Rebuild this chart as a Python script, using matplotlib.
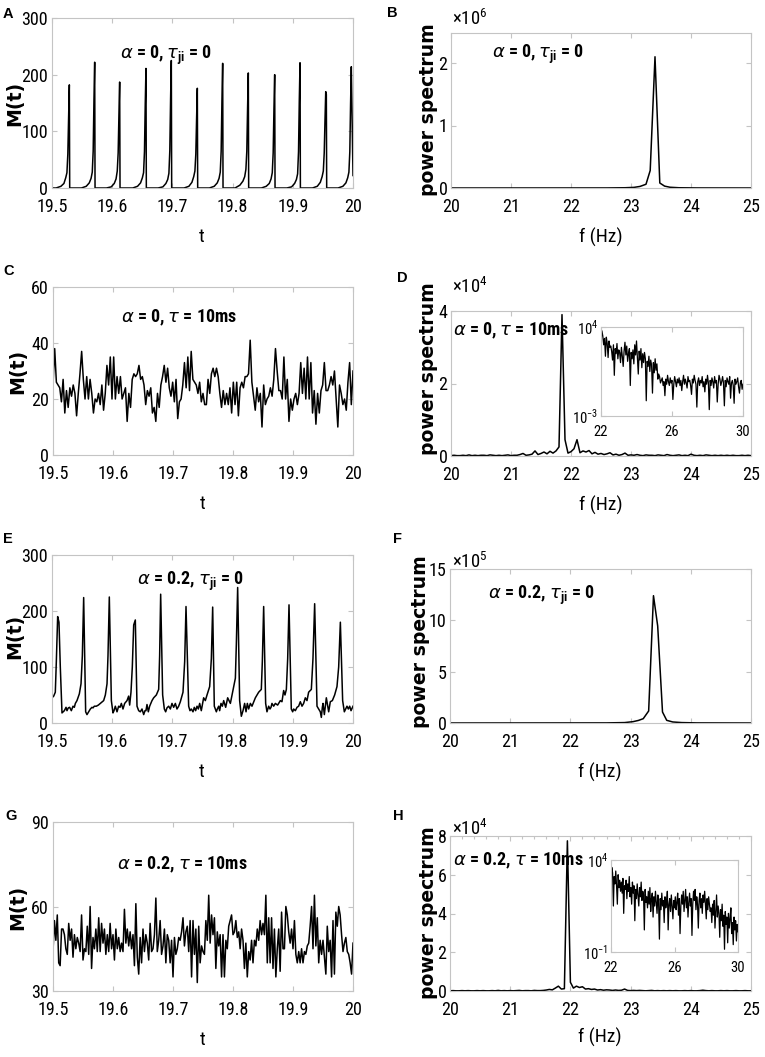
import numpy as np
import matplotlib
matplotlib.use('Agg')
import matplotlib.pyplot as plt
from matplotlib import font_manager as fm
from matplotlib.ticker import NullLocator, MultipleLocator

W, H = 765, 1057

# ---------------- fonts ----------------
_names = {f.name for f in fm.fontManager.ttflist}
NARROW, FS = 'DejaVu Sans', 0.8
for cand in ['Liberation Sans Narrow', 'Arial Narrow', 'Roboto Condensed', 'Archivo Narrow',
             'PT Sans Narrow', 'Fira Sans Condensed', 'Barlow Semi Condensed', 'Encode Sans Condensed']:
    if cand in _names:
        NARROW, FS = cand, 1.0
        break
WIDE = 'DejaVu Sans'
for cand in ['Liberation Sans', 'Arimo', 'Arial']:
    if cand in _names:
        WIDE = cand
        break

plt.rcParams['font.family'] = [NARROW, 'DejaVu Sans']
plt.rcParams['mathtext.fontset'] = 'custom'
plt.rcParams['mathtext.rm'] = NARROW
plt.rcParams['mathtext.bf'] = NARROW + ':bold'
plt.rcParams['mathtext.it'] = 'DejaVu Sans:italic'

# ---------------- data ----------------
# Panel A: M(t), alpha=0, tau_ji=0  (time in ms after t=19.5 s)
A_t_ms = [0.0, 6.8, 14.8, 19.8, 22.8, 24.8, 26.3, 27.6, 28.8, 29.4,
          48.9, 56.9, 61.9, 64.9, 66.9, 68.4, 69.7, 70.9, 71.5,
          90.4, 98.4, 103.4, 106.4, 108.4, 109.9, 111.2, 112.4, 113.0,
          134.1, 142.1, 147.1, 150.1, 152.1, 153.6, 154.9, 156.1, 156.7,
          176.2, 184.2, 189.2, 192.2, 194.2, 195.7, 197.0, 198.2, 198.8,
          219.4, 227.4, 232.4, 235.4, 237.4, 238.9, 240.2, 241.4, 242.0,
          261.5, 269.5, 274.5, 277.5, 279.5, 281.0, 282.3, 283.5, 284.1,
          304.1, 312.1, 317.1, 320.1, 322.1, 323.6, 324.9, 326.1, 326.7,
          347.9, 355.9, 360.9, 363.9, 365.9, 367.4, 368.7, 369.9, 370.5,
          390.0, 398.0, 403.0, 406.0, 408.0, 409.5, 410.8, 412.0, 412.6,
          432.7, 440.7, 445.7, 448.7, 450.7, 452.2, 453.5, 454.7, 455.7, 456.3,
          475.2, 483.2, 488.2, 491.2, 493.2, 494.7, 496.0, 497.2, 500.0]
A_M = [0, 0, 3, 8, 18, 27, 60, 125, 182, 0,
       0, 3, 9, 17, 28, 65, 155, 222, 0,
       0, 2, 8, 16, 30, 62, 130, 187, 0,
       0, 3, 9, 18, 27, 64, 148, 211, 0,
       0, 2, 8, 15, 26, 66, 158, 225, 0,
       0, 3, 10, 20, 30, 60, 123, 176, 0,
       0, 3, 9, 17, 28, 65, 154, 220, 0,
       0, 5, 12, 20, 33, 65, 142, 203, 0,
       0, 3, 8, 16, 27, 62, 140, 200, 0,
       0, 2, 8, 15, 25, 64, 155, 221, 0,
       0, 3, 10, 20, 30, 62, 120, 170, 165, 0,
       0, 3, 9, 18, 28, 64, 150, 214, 22]

# Panel B: power spectrum (x1e6)
B_f = [20.0, 22.6, 22.9, 23.05, 23.15, 23.25, 23.32, 23.40, 23.48, 23.56, 23.65, 23.8, 24.1, 25.0]
B_P = [0.0, 0.001, 0.004, 0.01, 0.025, 0.06, 0.28, 2.1, 0.08, 0.03, 0.012, 0.004, 0.001, 0.0]

# Panel C: M(t), alpha=0, tau=10ms (uniformly sampled 19.5..20)
C_M = [25, 38, 26, 25, 24, 19, 27, 15, 23, 17, 24, 21, 25, 22, 14, 22, 29, 37, 27, 20,
       28, 20, 27, 22, 15, 20, 19, 22, 18, 25, 16, 22, 32, 25, 35, 20, 35, 20, 28, 22,
       28, 20, 22, 24, 12, 22, 17, 27, 29, 28, 29, 32, 27, 28, 25, 18, 23, 21, 24, 15,
       17, 12, 22, 17, 25, 28, 32, 26, 31, 24, 21, 26, 19, 27, 13, 19, 20, 25, 33, 24,
       35, 23, 37, 27, 26, 25, 22, 26, 19, 22, 18, 18, 27, 22, 29, 31, 28, 31, 28, 22,
       17, 23, 18, 22, 18, 24, 15, 26, 18, 26, 14, 24, 26, 24, 28, 28, 29, 41, 26, 21,
       16, 24, 19, 22, 10, 25, 18, 20, 21, 24, 21, 27, 38, 30, 23, 23, 20, 35, 20, 27,
       12, 20, 16, 20, 22, 18, 22, 33, 22, 31, 20, 35, 20, 33, 15, 23, 11, 22, 15, 23,
       25, 33, 23, 23, 25, 28, 25, 30, 20, 10, 25, 22, 18, 20, 16, 26, 33, 18, 30]

# Panel D: power spectrum (x1e4), 20..25 Hz
D_P = [0.01, 0.02, 0.01, 0.01, 0.02, 0.01, 0.03, 0.01, 0.02, 0.01, 0.02, 0.02, 0.01, 0.03,
       0.02, 0.01, 0.02, 0.01, 0.02, 0.03, 0.01, 0.02, 0.02,
       0.04, 0.07, 0.02, 0.03, 0.05, 0.14, 0.04, 0.07, 0.11, 0.06, 0.13, 0.08, 0.14, 0.25,
       3.9,
       0.45, 0.08, 0.12, 0.2, 0.45, 0.09, 0.14, 0.11, 0.15, 0.06, 0.1, 0.05, 0.07,
       0.04, 0.06, 0.09, 0.03, 0.05, 0.02, 0.04, 0.08, 0.02, 0.03, 0.02, 0.04, 0.02, 0.01,
       0.03, 0.02, 0.02, 0.01, 0.03, 0.02, 0.01, 0.04, 0.02, 0.01, 0.02, 0.03, 0.01, 0.02,
       0.01, 0.05, 0.02, 0.01, 0.02, 0.01, 0.03, 0.02, 0.01, 0.02, 0.01, 0.02, 0.01, 0.02,
       0.01, 0.02, 0.01, 0.01, 0.02, 0.01, 0.02, 0.01]
# Panel D inset: log10(power), 22..30 Hz
D_inset_log = [2.8, 3.7, 3.3, 2.6, 3.1, 1.7, 3.2, 2.7, 1.6, 2.9, 2.4,
               2.5, 2.1, 1.4, 2.6, 0.2, 2.3, 1.9, 2.7, 1.5, 2.2, 2.0, 1.2, 2.4, 1.7, 0.9, 2.1, 2.8, 1.8, 2.5, 1.3,
               1.9, 2.3, -0.6, 2.0, 1.5, 2.2, 1.1, 2.6, 1.8, 2.9, 1.6, 0.3, 2.1, 1.4, 2.3, 0.8, 1.9, 1.2, 2.0, 1.5,
               -1.8, 1.3, 0.9, 1.7, 0.5, 1.4, 1.0, -1.2, 1.2, 0.4, 1.5, 0.6, 1.1, -0.1, 0.3,
               0.1, -0.4, -0.2, 0.0, -0.6, -0.3, -1.4, -0.1, -0.5, 0.2,
               -0.3, -0.6, 0.0, -0.4, -0.2, -1.7, -0.5, 0.1, -0.3, -0.7,
               -0.1, -0.4, 0.0, -0.6, -0.2, -1.0, -0.3, 0.2, -0.5, -0.1,
               -0.4, -0.8, 0.1, -0.3, -0.2, -0.6, -1.3, -0.1, -0.4, 0.2,
               -0.2, -0.5, -2.3, -0.3, 0.0, -0.6, -0.2, -0.4, 0.1, -0.7,
               -0.3, -1.1, -0.1, -0.5, 0.2, -0.4, -2.5, -0.2, -0.6, 0.0,
               -0.3, -0.8, 0.1, -0.4, -0.2, -1.9, -0.5, 0.2, -0.1, -0.6,
               -0.3, 0.1, -0.4, -2.2, -0.2, -0.7, 0.0, -0.3, -0.5, 0.1,
               -1.6, -0.4, -0.2, -0.6, -2.0, -0.1, -0.5, -0.3, 0.0, -0.7,
               -1.2, -0.4, -0.2, -0.9, -0.5]

# Panel E: M(t), alpha=0.2, tau_ji=0 (time in ms after t=19.5 s)
E_t_ms = [0.0, 2.8, 5.5, 7.2, 9.4, 11.6, 13.8, 16.6, 20.5, 23.3,
          24.9, 27.1, 29.3, 32.1, 34.9, 37.1, 38.8, 41.5, 45.4, 48.2,
          50.4, 52.6, 55.9, 58.1, 60.9, 63.7, 66.4, 68.1, 70.3, 73.6,
          77.0, 80.3, 85.8, 88.6, 91.4, 93.0, 95.2, 98.6, 101.3, 103.0,
          105.2, 108.0, 110.7, 113.0, 115.2, 117.9, 120.7, 124.6, 127.3, 129.0,
          131.2, 133.4, 135.7, 138.4, 141.2, 144.0, 146.7, 149.5, 152.3, 154.5,
          156.1, 157.8, 160.0, 162.2, 166.1, 168.9, 173.3, 177.2, 178.8, 180.5,
          183.8, 186.6, 188.8, 191.0, 193.8, 196.6, 199.3, 202.1, 204.9, 207.6,
          210.4, 213.2, 217.6, 220.4, 222.6, 227.0, 229.2, 231.4, 234.2, 236.4,
          238.6, 240.9, 243.1, 245.3, 248.0, 251.9, 254.7, 257.5, 261.9, 264.7,
          266.9, 269.6, 273.0, 274.6, 276.9, 278.5, 280.7, 283.0, 285.2, 288.5,
          291.8, 296.3, 301.8, 304.6, 306.2, 308.4, 311.7, 314.5, 317.3, 320.0,
          322.3, 324.5, 326.7, 329.5, 332.2, 337.8, 343.3, 347.7, 349.4, 351.6,
          354.9, 357.1, 359.9, 362.1, 363.8, 365.4, 368.2, 371.0, 374.8, 379.3,
          382.0, 384.8, 387.0, 389.3, 391.5, 393.7, 397.5, 399.8, 401.4, 404.2,
          407.0, 409.7, 412.5, 415.3, 418.0, 420.8, 423.6, 426.3, 430.8, 433.5,
          436.3, 440.2, 443.0, 445.7, 447.4, 449.1, 450.2, 452.4, 455.7, 459.6,
          462.3, 465.7, 469.5, 473.4, 476.2, 479.0, 482.8, 485.6, 487.8, 490.0,
          492.2, 494.5, 496.7, 500.0]
E_M = [45, 48, 55, 110, 190, 180, 100, 18, 22, 28,
       22, 27, 28, 22, 30, 28, 35, 40, 52, 70,
       120, 224, 20, 15, 20, 25, 28, 27, 30, 30,
       32, 35, 40, 50, 70, 120, 225, 40, 18, 22,
       30, 20, 30, 28, 35, 25, 35, 40, 48, 32,
       55, 100, 175, 184, 30, 22, 20, 25, 15, 22,
       22, 33, 20, 30, 40, 45, 50, 60, 120, 230,
       50, 25, 20, 27, 30, 25, 35, 28, 35, 25,
       30, 38, 55, 110, 208, 30, 22, 25, 20, 28,
       22, 30, 25, 35, 22, 45, 40, 50, 65, 115,
       207, 30, 20, 25, 30, 22, 35, 30, 40, 28,
       45, 35, 65, 80, 140, 242, 40, 12, 22, 35,
       20, 35, 25, 35, 30, 45, 55, 60, 110, 208,
       35, 20, 30, 25, 28, 35, 30, 35, 32, 40,
       38, 58, 50, 60, 115, 211, 25, 20, 25, 22,
       28, 30, 38, 30, 35, 45, 40, 55, 60, 115,
       213, 30, 25, 20, 10, 28, 35, 15, 45, 20,
       38, 40, 50, 65, 100, 180, 40, 20, 25, 30,
       25, 30, 22, 30]

# Panel F: power spectrum (x1e5)
F_f = [20.0, 22.6, 22.9, 23.04, 23.13, 23.21, 23.30, 23.38, 23.45, 23.53, 23.6, 23.7, 23.85, 24.1, 25.0]
F_P = [0.0, 0.01, 0.04, 0.13, 0.25, 0.42, 1.17, 12.4, 9.45, 1.07, 0.26, 0.1, 0.04, 0.01, 0.0]

# Panel G: M(t), alpha=0.2, tau=10ms (uniformly sampled 19.5..20)
G_M = [44, 55, 48, 57, 40, 39, 52, 52, 50, 45, 43, 54, 48, 52, 42, 50, 45, 49, 47, 44,
       57, 41, 45, 44, 53, 43, 60, 38, 49, 45, 52, 44, 56, 44, 54, 47, 52, 43, 50, 44,
       54, 45, 50, 41, 52, 45, 49, 44, 47, 44, 59, 47, 52, 46, 51, 45, 50, 39, 61, 42,
       36, 49, 40, 52, 44, 50, 47, 41, 54, 44, 45, 50, 63, 44, 48, 55, 43, 46, 52, 40,
       50, 48, 40, 48, 35, 49, 43, 45, 49, 48, 51, 56, 46, 51, 53, 44, 55, 35, 55, 43,
       52, 33, 53, 40, 46, 44, 43, 55, 48, 64, 47, 57, 50, 56, 38, 51, 46, 50, 35, 50,
       35, 48, 45, 53, 55, 57, 50, 51, 55, 49, 51, 45, 52, 48, 38, 47, 35, 44, 41, 48,
       40, 48, 46, 52, 48, 55, 50, 54, 50, 64, 40, 56, 40, 56, 38, 52, 35, 45, 52, 37,
       58, 45, 45, 60, 57, 51, 47, 52, 45, 55, 43, 40, 44, 40, 45, 40, 44, 43, 46, 47,
       53, 60, 45, 64, 46, 56, 40, 48, 43, 48, 42, 36, 53, 44, 48, 35, 55, 36, 58, 53,
       60, 57, 50, 44, 47, 49, 44, 43, 40, 36, 47]

# Panel H: power spectrum (x1e4), 20..25 Hz
H_P = [0.01, 0.02, 0.01, 0.01, 0.02, 0.01, 0.02, 0.01, 0.01, 0.02, 0.01, 0.02, 0.01, 0.01,
       0.02, 0.01, 0.03, 0.01, 0.02, 0.01, 0.02, 0.01, 0.02, 0.03, 0.01, 0.02, 0.02, 0.01,
       0.03, 0.02, 0.02,
       0.03, 0.05, 0.08, 0.06, 0.15, 0.25, 0.1, 0.12,
       7.75,
       0.45, 0.15, 0.25, 0.18, 0.22, 0.1, 0.12, 0.08, 0.1, 0.05, 0.07,
       0.04, 0.06, 0.05, 0.03, 0.05, 0.03, 0.04, 0.1, 0.03, 0.02, 0.03, 0.02, 0.03, 0.02,
       0.01, 0.02, 0.03, 0.01, 0.02, 0.01, 0.02, 0.01, 0.02, 0.01, 0.02, 0.01, 0.01, 0.02,
       0.01, 0.02, 0.01, 0.01, 0.02, 0.04, 0.02, 0.01, 0.02, 0.01, 0.01, 0.02, 0.01, 0.02,
       0.01, 0.01, 0.02, 0.01, 0.01, 0.02, 0.01, 0.01]
# Panel H inset: log10(power), 22..30 Hz
H_inset_log = [3.0, 3.6, 3.3, 1.5, 3.1, 2.7, 3.4, 2.6, 1.6, 3.2, 2.5, 2.9, 2.3,
               2.8, 2.2, 3.0, 1.1, 2.6, 2.4, 2.9, 1.9, 2.7, 2.3, 3.1, 2.0, 2.5, 1.6,
               2.8, 2.2, 2.6, 0.7, 2.4, 1.9, 2.7, 2.1, 1.5, 2.5, 2.0, 2.8, 1.8, 2.3,
               2.1, 0.2, 2.4, 1.7, 2.0, 1.4, 2.3, 1.6, 2.5, 1.2, 1.9, 2.2, 0.9, 2.0,
               1.5, 2.3, 1.7, 1.1, 2.1, 1.6, -0.3, 1.9, 1.3, 2.2, 1.5, 1.8, 0.6, 2.0,
               1.4, 1.7, 2.3, 0.2, 1.6, 1.9, 1.2, 2.1, 1.5, 0.8, 1.8, 1.4, 2.0, 1.3,
               1.7, 2.2, 1.0, 1.9, 0.0, 1.5, 2.1, 1.6, 2.3, 1.2, 1.8, 2.4, 1.4, 2.0,
               0.9, 1.7, 2.2, 1.5, 1.9, -0.1, 1.6, 2.3, 1.8, 2.4, 1.3, 2.0, 1.6, 0.3,
               1.8, 2.2, 1.4, 1.9, 1.1, 2.1, 1.7, 2.3, 1.5, 0.8, 1.9, 1.3, 2.0, 1.6, 1.2,
               1.4, 0.6, 1.6, 1.0, 1.8, 0.3, 1.2, 2.1, 0.9, 1.5, 1.1, -0.2, 1.3, 0.7,
               1.6, 0.4, 1.0, -0.85, 1.2, 0.5, 0.9, -0.5, 1.1, 0.3, 0.8, 1.4, 0.0, 0.6,
               -0.6, 0.9, 0.2, 0.7, -0.4, 0.5, 0.1]

t_ticks = [19.5, 19.6, 19.7, 19.8, 19.9, 20.0]
t_ticklabels = ['19.5', '19.6', '19.7', '19.8', '19.9', '20']
f_ticks = [20, 21, 22, 23, 24, 25]
f_ticklabels = ['20', '21', '22', '23', '24', '25']

# ---------------- helpers ----------------
fig = plt.figure(figsize=(W / 100, H / 100), dpi=100)
FRAME = '#c4c4c4'


def rect(x1, y1, x2, y2):
    return [x1 / W, 1 - y2 / H, (x2 - x1) / W, (y2 - y1) / H]


def fx(x):
    return x / W


def fy(y):
    return 1 - y / H


def style(ax, xlim, ylim, xticks, xlabels, yticks, ylabels, tick_fs=13, xpad=7, ypad=3):
    ax.set_xlim(*xlim)
    ax.set_ylim(*ylim)
    ax.set_xticks(xticks)
    ax.set_xticklabels(xlabels)
    ax.set_yticks(yticks)
    ax.set_yticklabels(ylabels)
    for s in ax.spines.values():
        s.set_color(FRAME)
        s.set_linewidth(0.8)
    ax.tick_params(which='both', direction='in', length=3.5, width=0.8, color=FRAME,
                   top=True, right=True, labelsize=tick_fs * FS, labelcolor='k')
    ax.tick_params(axis='x', pad=xpad)
    ax.tick_params(axis='y', pad=ypad)


def labels(ax, xl, xc, yl_text, ylc):
    ax.set_xlabel(xl, fontsize=14 * FS, va='center')
    ax.xaxis.set_label_coords(fx(xc[0]), fy(xc[1]), transform=fig.transFigure)
    ax.set_ylabel(yl_text, fontsize=13.6, fontweight='bold',
                  family=['DejaVu Sans'], va='center', ha='center')
    ax.yaxis.set_label_coords(fx(ylc[0]), fy(ylc[1]), transform=fig.transFigure)


def note(x, y, s):
    fig.text(fx(x), fy(y), s, fontsize=13 * FS, fontweight='bold', ha='left', va='baseline')


def letter(x, y, s):
    fig.text(fx(x), fy(y), s, fontsize=10.5, fontweight='bold', family=[WIDE, 'DejaVu Sans'],
             ha='left', va='baseline')


def mult(x, y, p):
    fig.text(fx(x), fy(y), r'$\times$10$^{%d}$' % p, fontsize=13.5 * FS, ha='left', va='baseline')


LW = 1.1

# ---------------- A ----------------
axA = fig.add_axes(rect(52, 18, 353, 188))
axA.plot(19.5 + np.array(A_t_ms) / 1000.0, A_M, color='k', lw=LW)
style(axA, (19.5, 20), (0, 300), t_ticks, t_ticklabels, [0, 100, 200, 300], ['0', '100', '200', '300'])
labels(axA, 't', (202, 237), 'M(t)', (15, 103))
note(120, 59, r'$\alpha$ = 0, $\tau_{\mathbf{ji}}$ = 0')
letter(3, 18, 'A')

# ---------------- B ----------------
axB = fig.add_axes(rect(451, 33, 751, 188))
axB.plot(B_f, B_P, color='k', lw=LW)
style(axB, (20, 25), (0, 2.48), f_ticks, f_ticklabels, [0, 1, 2], ['0', '1', '2'], ypad=2.5)
labels(axB, 'f (Hz)', (601, 237), 'power spectrum', (428, 110))
mult(452, 25, 6)
note(492, 58, r'$\alpha$ = 0, $\tau_{\mathbf{ji}}$ = 0')
letter(387, 17, 'B')

# ---------------- C ----------------
axC = fig.add_axes(rect(53, 287, 353, 455))
axC.plot(np.linspace(19.5, 20.0, len(C_M)), C_M, color='k', lw=LW)
style(axC, (19.5, 20), (0, 60), t_ticks, t_ticklabels, [0, 20, 40, 60], ['0', '20', '40', '60'])
labels(axC, 't', (203, 504), 'M(t)', (18, 371))
note(121, 322, r'$\alpha$ = 0, $\tau$ = 10ms')
letter(3, 275, 'C')

# ---------------- D ----------------
axD = fig.add_axes(rect(451, 311, 751, 456))
axD.plot(np.linspace(20, 25, len(D_P)), D_P, color='k', lw=LW)
style(axD, (20, 25), (0, 4), f_ticks, f_ticklabels, [0, 2, 4], ['0', '2', '4'], ypad=2.5)
labels(axD, 'f (Hz)', (601, 505), 'power spectrum', (429, 369))
mult(452, 293, 4)
note(453, 335, r'$\alpha$ = 0, $\tau$ = 10ms')
letter(397, 282, 'D')

axDi = fig.add_axes(rect(601, 327, 743, 416))
axDi.semilogy(np.linspace(22, 30, len(D_inset_log)), 10.0 ** np.array(D_inset_log), color='k', lw=0.9)
style(axDi, (22, 30), (1e-3, 1e4), [22, 26, 30], ['22', '26', '30'],
      [1e-3, 1e4], [r'$10^{-3}$', r'$10^{4}$'], tick_fs=10.5, xpad=6.5, ypad=2)
axDi.yaxis.set_minor_locator(NullLocator())

# ---------------- E ----------------
axE = fig.add_axes(rect(52, 555, 353, 723))
axE.plot(19.5 + np.array(E_t_ms) / 1000.0, E_M, color='k', lw=LW)
style(axE, (19.5, 20), (0, 300), t_ticks, t_ticklabels, [0, 100, 200, 300], ['0', '100', '200', '300'])
labels(axE, 't', (202, 772), 'M(t)', (15, 636))
note(137, 585, r'$\alpha$ = 0.2, $\tau_{\mathbf{ji}}$ = 0')
letter(3, 543, 'E')

# ---------------- F ----------------
axF = fig.add_axes(rect(450, 569, 751, 723))
axF.plot(F_f, F_P, color='k', lw=LW)
style(axF, (20, 25), (0, 15), f_ticks, f_ticklabels, [0, 5, 10, 15], ['0', '5', '10', '15'], ypad=2.5)
labels(axF, 'f (Hz)', (600, 772), 'power spectrum', (420, 642))
mult(452, 568, 5)
note(488, 599, r'$\alpha$ = 0.2, $\tau_{\mathbf{ji}}$ = 0')
letter(393, 543, 'F')

# ---------------- G ----------------
axG = fig.add_axes(rect(53, 822, 353, 991))
axG.plot(np.linspace(19.5, 20.0, len(G_M)), G_M, color='k', lw=LW)
style(axG, (19.5, 20), (30, 90), t_ticks, t_ticklabels, [30, 60, 90], ['30', '60', '90'])
labels(axG, 't', (203, 1040), 'M(t)', (18, 907))
note(117, 869, r'$\alpha$ = 0.2, $\tau$ = 10ms')
letter(5, 820, 'G')

# ---------------- H ----------------
axH = fig.add_axes(rect(450, 836, 751, 991))
axH.plot(np.linspace(20, 25, len(H_P)), H_P, color='k', lw=LW)
style(axH, (20, 25), (0, 8), f_ticks, f_ticklabels, [0, 2, 4, 6, 8], ['0', '2', '4', '6', '8'], ypad=2.5)
axH.xaxis.set_minor_locator(MultipleLocator(0.2))
axH.tick_params(axis='x', which='minor', length=2, bottom=False, top=True)
labels(axH, 'f (Hz)', (600, 1037), 'power spectrum', (428, 913))
mult(452, 835, 4)
note(453, 865, r'$\alpha$ = 0.2, $\tau$ = 10ms')
letter(393, 820, 'H')

axHi = fig.add_axes(rect(611, 860, 738, 952))
axHi.semilogy(np.linspace(22, 30, len(H_inset_log)), 10.0 ** np.array(H_inset_log), color='k', lw=0.9)
style(axHi, (22, 30), (1e-1, 1e4), [22, 26, 30], ['22', '26', '30'],
      [1e-1, 1e4], [r'$10^{-1}$', r'$10^{4}$'], tick_fs=10.5, xpad=6.5, ypad=2)
axHi.yaxis.set_minor_locator(NullLocator())

fig.savefig('out.png', dpi=100)
